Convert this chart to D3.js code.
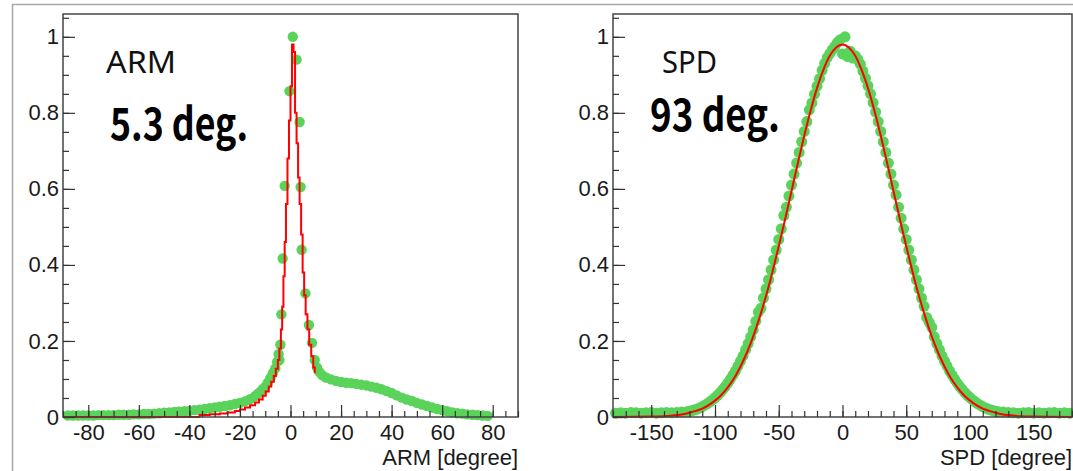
<!DOCTYPE html>
<html>
<head>
<meta charset="utf-8">
<script src="https://cdn.jsdelivr.net/npm/d3@7"></script>
<style>
  body { margin: 0; background: #fff; }
  svg { display: block; }
</style>
</head>
<body>
<div id="chartContainer"></div>
<script>
// ARM histogram points (green)
const armX = [
  -88, -86, -84, -82, -80, -78, -76, -74, -72, -70,
  -68, -66, -64, -62, -60, -58, -56, -54, -52, -50,
  -48, -46, -44, -42, -40, -38, -36, -34, -32, -30,
  -28, -26, -24, -22, -20, -18, -16, -14, -13, -12,
  -11, -10, -9, -8, -7, -6, -5.3, -4.7, -4.4, -4.0,
  -3.6, -3.1, -2.3, -0.4, 0.9, 2.4, 3.6, 4.0, 4.4, 5.9,
  7.3, 8.5, 9.6, 10.5, 11.5, 12.5, 14, 16, 18, 20,
  22, 24, 26, 28, 30, 32, 34, 36, 38, 40,
  42, 44, 46, 48, 50, 52, 54, 56, 58, 60,
  62, 64, 66, 68, 70, 72, 74, 76, 78
];
const armY = [
  .004, .004, .004, .004, .004, .004, .005, .005, .005, .005,
  .006, .006, .006, .007, .007, .008, .008, .009, .010, .011,
  .012, .013, .014, .015, .016, .018, .019, .021, .023, .025,
  .027, .029, .031, .034, .037, .041, .047, .055, .060, .066,
  .073, .080, .090, .102, .115, .128, .145, .165, .150, .190,
  .270, .417, .608, .857, 1.0, .940, .776, .605, .440, .325,
  .242, .195, .150, .130, .118, .110, .104, .099, .095, .092,
  .090, .089, .087, .085, .083, .080, .077, .073, .068, .063,
  .057, .051, .046, .042, .037, .033, .029, .025, .021, .018,
  .015, .012, .010, .009, .007, .006, .005, .004, .003
];

// ARM fit (red)
const armFitX = [
  -90, -36, -32, -28, -25, -22, -20, -18, -16, -14,
  -12.5, -11, -9.8, -8.6, -7.6, -6.6, -5.8, -5.0, -4.4, -3.8,
  -3.3, -2.8, -2.3, -1.8, -1.2, -0.6, 0, 0.6, 1.2, 1.8,
  2.4, 3.0, 3.6, 4.2, 4.8, 5.4, 6.0, 6.7, 7.4, 8.2,
  9.0, 9.6
];
const armFitY = [
  0, .005, .007, .009, .012, .016, .020, .025, .031, .038,
  .046, .056, .067, .080, .093, .108, .127, .150, .180, .230,
  .290, .370, .460, .560, .680, .780, .870, .980, .960, .800,
  .720, .630, .560, .480, .380, .320, .270, .230, .190, .160,
  .130, .115
];

// SPD histogram points (green)
const spdX = [
  -178, -174, -170, -166, -162, -158, -154, -150, -146, -142,
  -138, -134, -130, -126, -122,
  -120, -118, -116, -114, -112, -110, -108, -106, -104, -102,
  -100, -98, -96, -94, -92, -90, -88, -86, -84, -82,
  -80, -78, -76, -74, -72, -70, -68, -66, -64, -62,
  -60, -58, -56, -54, -52, -50, -48, -46, -44, -42,
  -40, -38, -36, -34, -32, -30, -28, -26, -24, -22,
  -20, -18, -16, -14, -12, -10, -8, -6, -4, -2,
  0, 2, 4, 6, 8, 10, 12, 14, 16, 18,
  20, 22, 24, 26, 28, 30, 32, 34, 36, 38,
  40, 42, 44, 46, 48, 50, 52, 54, 56, 58,
  60, 62, 64, 66, 68, 70, 72, 74, 76, 78,
  80, 82, 84, 86, 88, 90, 92, 94, 96, 98,
  100, 102, 104, 106, 108, 110, 112, 114, 116, 118,
  120,
  122, 126, 130, 134, 138, 142, 146, 150, 154, 158,
  162, 166, 170, 174, 178
];
const spdY = [
  .010, .011, .010, .012, .011, .010, .011, .012, .010, .011,
  .012, .011, .012, .013, .014,
  .015, .017, .019, .021, .024, .027, .031, .035, .040, .045,
  .051, .057, .064, .072, .080, .089, .099, .110, .121, .134,
  .147, .161, .177, .193, .211, .229, .252, .276, .286, .313,
  .337, .361, .387, .413, .439, .467, .495, .530, .552, .581,
  .610, .639, .668, .696, .724, .751, .777, .808, .826, .849,
  .870, .890, .912, .930, .945, .956, .966, .975, .985, .992,
  .955, 1.0, .948, .962, .944, .950, .941, .928, .910, .891,
  .871, .850, .827, .802, .777, .751, .724, .696, .668, .639,
  .610, .584, .552, .523, .495, .467, .439, .413, .387, .361,
  .337, .313, .291, .262, .249, .236, .211, .193, .177, .161,
  .147, .134, .121, .110, .099, .089, .080, .072, .064, .057,
  .051, .045, .040, .035, .031, .027, .024, .021, .019, .017,
  .015,
  .014, .013, .012, .011, .010, .011, .012, .010, .011, .010,
  .011, .012, .010, .011, .010
];

// SPD fit (red)
const spdFitX = [
  -180, -150, -140, -130, -125, -120, -115, -110, -105, -100,
  -95, -90, -85, -80, -75, -70, -65, -60, -55, -50,
  -45, -40, -35, -30, -25, -20, -15, -10, -5, 0,
  5, 10, 15, 20, 25, 30, 35, 40, 45, 50,
  55, 60, 65, 70, 75, 80, 85, 90, 95, 100,
  105, 110, 115, 120, 125, 130, 140, 150, 180
];
const spdFitY = [
  0, .001, .002, .005, .0075, .011, .016, .022, .031, .043,
  .058, .078, .102, .133, .169, .212, .262, .318, .381, .449,
  .520, .594, .668, .740, .806, .865, .913, .950, .972, .980,
  .972, .950, .913, .865, .806, .740, .668, .594, .520, .449,
  .381, .318, .262, .212, .169, .133, .102, .078, .058, .043,
  .031, .022, .016, .011, .0075, .005, .002, .001, 0
];

// Tick labels
const armTicks = [-80, -60, -40, -20, 0, 20, 40, 60, 80];
const spdTicks = [-150, -100, -50, 0, 50, 100, 150];
const yTicks = [0, 0.2, 0.4, 0.6, 0.8, 1];

const width = 1073, height = 471;
const plotTop = 14, plotBottom = 417;
const labelFont = '"Liberation Sans", Arial, sans-serif';

const svg = d3.select('#chartContainer')
    .append('svg')
    .attr('width', width)
    .attr('height', height);

// Outer slide border
svg.append('path')
    .attr('d', `M12.5,${height}V4.5H${width}`)
    .attr('fill', 'none')
    .attr('stroke', '#a8a8a8')
    .attr('stroke-width', 1.5);

function drawPanel(p) {
    const x = d3.scaleLinear().domain(p.xDomain).range([p.left, p.right]);
    const y = d3.scaleLinear().domain([0, 1.06]).range([plotBottom, plotTop]);
    const g = svg.append('g');

    // Histogram points
    g.selectAll('circle')
        .data(d3.zip(p.xs, p.ys))
        .join('circle')
        .attr('cx', d => x(d[0]))
        .attr('cy', d => y(d[1]))
        .attr('r', p.r)
        .attr('fill', '#5ad35a');

    // Fit line
    g.append('path')
        .datum(d3.zip(p.fitX, p.fitY))
        .attr('fill', 'none')
        .attr('stroke', '#ff0000')
        .attr('stroke-width', 2)
        .attr('d', d3.line().x(d => x(d[0])).y(d => y(d[1])).curve(p.curve));

    // Frame
    g.append('rect')
        .attr('x', p.left)
        .attr('y', plotTop)
        .attr('width', p.right - p.left)
        .attr('height', plotBottom - plotTop)
        .attr('fill', 'none')
        .attr('stroke', '#444')
        .attr('stroke-width', 1.5);

    // x axis: minor then major ticks
    g.append('g')
        .attr('transform', `translate(0,${plotBottom})`)
        .call(d3.axisBottom(x).tickValues(p.minor).tickSize(-6).tickFormat(''))
        .call(a => a.select('.domain').remove());
    const xa = g.append('g')
        .attr('transform', `translate(0,${plotBottom})`)
        .call(d3.axisBottom(x).tickValues(p.majors).tickSize(-12).tickPadding(7).tickFormat(d => String(d)));
    xa.select('.domain').remove();

    // y axis
    g.append('g')
        .attr('transform', `translate(${p.left},0)`)
        .call(d3.axisLeft(y).tickValues(d3.range(0, 1.06, 0.05)).tickSize(-6).tickFormat(''))
        .call(a => a.select('.domain').remove());
    const ya = g.append('g')
        .attr('transform', `translate(${p.left},0)`)
        .call(d3.axisLeft(y).tickValues(yTicks).tickSize(-12).tickPadding(4).tickFormat(d => String(d)));
    ya.select('.domain').remove();

    g.selectAll('.tick line').attr('stroke', '#333').attr('stroke-width', 1.2);
    g.selectAll('.tick text')
        .attr('font-family', labelFont)
        .attr('font-size', 22)
        .attr('fill', '#1a1a1a');

    // Axis title
    g.append('text')
        .attr('x', p.right)
        .attr('y', 465)
        .attr('text-anchor', 'end')
        .attr('font-family', labelFont)
        .attr('font-size', 22)
        .attr('fill', '#1a1a1a')
        .text(p.title);

    // Panel name and width
    g.append('text')
        .attr('x', p.nameX)
        .attr('y', 72.5)
        .attr('font-family', '"Noto Sans", "Open Sans", sans-serif')
        .attr('font-size', 30)
        .attr('fill', '#111')
        .attr('textLength', p.nameLen)
        .attr('lengthAdjust', 'spacingAndGlyphs')
        .text(p.name);
    g.append('text')
        .attr('x', p.degX)
        .attr('y', p.degY)
        .attr('font-family', '"Noto Sans CJK JP", "Noto Sans", sans-serif')
        .attr('font-weight', 700)
        .attr('font-size', 44)
        .attr('fill', '#000')
        .attr('textLength', p.degLen)
        .attr('lengthAdjust', 'spacingAndGlyphs')
        .text(p.deg);
}

drawPanel({
    xDomain: [-90, 90], left: 63, right: 518,
    xs: armX, ys: armY, fitX: armFitX, fitY: armFitY, r: 5.2,
    curve: d3.curveStepAfter,
    majors: armTicks, minor: d3.range(-90, 91, 5),
    title: 'ARM [degree]',
    name: 'ARM', nameX: 106, nameLen: 70,
    deg: '5.3 deg.', degX: 110, degY: 140, degLen: 138
});

drawPanel({
    xDomain: [-180, 180], left: 613, right: 1072,
    xs: spdX, ys: spdY, fitX: spdFitX, fitY: spdFitY, r: 5.5,
    curve: d3.curveMonotoneX,
    majors: spdTicks, minor: d3.range(-180, 181, 10),
    title: 'SPD [degree]',
    name: 'SPD', nameX: 662, nameLen: 55,
    deg: '93 deg.', degX: 650, degY: 131, degLen: 130
});
</script>
</body>
</html>
